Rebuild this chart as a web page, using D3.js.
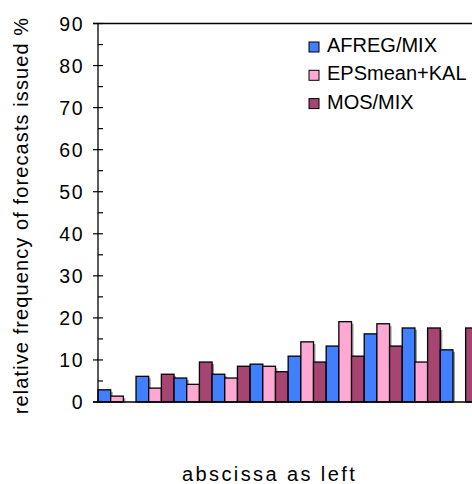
<!DOCTYPE html>
<html>
<head>
<meta charset="utf-8">
<script src="https://d3js.org/d3.v7.min.js"></script>
<style>
  body { margin: 0; background: #fff; overflow: hidden; }
  svg { display: block; }
  text { font-family: "Liberation Sans", Arial, sans-serif; fill: #000; }
</style>
</head>
<body>
<svg width="472" height="484"></svg>
<script>
// bins along the abscissa (no labels shown on the chart)
const categories = ["1", "2", "3", "4", "5", "6", "7", "8", "9", "10"];
const seriesNames = ["AFREG/MIX", "EPSmean+KAL", "MOS/MIX"];
const afreg   = [2.9, 6.1, 5.7, 6.6, 9.0, 10.9, 13.3, 16.2, 17.6, 12.4];
const epsKal  = [1.4, 3.3, 4.2, 5.7, 8.5, 14.3, 19.1, 18.6, 9.5, 0];
const mosMix  = [0, 6.6, 9.5, 8.5, 7.2, 9.5, 10.9, 13.3, 17.6, 17.6];
const yTicks  = [0, 10, 20, 30, 40, 50, 60, 70, 80, 90];
const colors  = ["#4080ff", "#ffa8d4", "#a64472"];

const svg = d3.select("svg");
const W = 472;

// plot area (the chart continues past the right edge of the window)
const x0 = 98, groupW = 38.03;
const x = d3.scaleBand().domain(categories)
  .range([x0, x0 + groupW * categories.length]).padding(0);
const xs = d3.scaleBand().domain(seriesNames).range([0, x.bandwidth()]).padding(0);
const y = d3.scaleLinear().domain([0, 90]).range([402, 23.5]);

const values = [afreg, epsKal, mosMix];
const rows = [];
categories.forEach((c, i) => {
  seriesNames.forEach((s, j) => rows.push({ cat: c, s, j, v: values[j][i] }));
});

// bar shadows
svg.append("g").selectAll("rect")
  .data(rows.filter(d => d.v > 0))
  .join("rect")
    .attr("x", d => x(d.cat) + xs(d.s) + 2)
    .attr("y", d => y(d.v) + 2)
    .attr("width", xs.bandwidth())
    .attr("height", d => y(0) - y(d.v) - 2)
    .attr("fill", "#999");

// bars
svg.append("g").selectAll("rect")
  .data(rows.filter(d => d.v > 0))
  .join("rect")
    .attr("x", d => x(d.cat) + xs(d.s))
    .attr("y", d => y(d.v))
    .attr("width", xs.bandwidth())
    .attr("height", d => y(0) - y(d.v))
    .attr("fill", d => colors[d.j])
    .attr("stroke", "#000")
    .attr("stroke-width", 1.3);

// y axis
const ax = svg.append("g");
ax.append("line")
  .attr("x1", x0).attr("x2", x0)
  .attr("y1", y(90)).attr("y2", y(0))
  .attr("stroke", "#000").attr("stroke-width", 1.3);
// top frame line
ax.append("line")
  .attr("x1", x0 - 5).attr("x2", W)
  .attr("y1", y(90)).attr("y2", y(90))
  .attr("stroke", "#000").attr("stroke-width", 1.3);
// x axis line
ax.append("line")
  .attr("x1", x0 - 5).attr("x2", W)
  .attr("y1", y(0)).attr("y2", y(0))
  .attr("stroke", "#000").attr("stroke-width", 1.6);

ax.selectAll(".major").data(yTicks).join("line")
  .attr("x1", x0 - 5).attr("x2", x0 + 5)
  .attr("y1", d => y(d)).attr("y2", d => y(d))
  .attr("stroke", "#000").attr("stroke-width", 1.2);
ax.selectAll(".minor").data(yTicks.slice(0, -1).map(d => d + 5)).join("line")
  .attr("x1", x0).attr("x2", x0 + 5)
  .attr("y1", d => y(d)).attr("y2", d => y(d))
  .attr("stroke", "#000").attr("stroke-width", 1.2);

ax.selectAll("text").data(yTicks).join("text")
  .attr("x", 84)
  .attr("y", d => y(d))
  .attr("dy", "0.36em")
  .attr("text-anchor", "end")
  .style("font-size", "19.5px")
  .style("letter-spacing", "1.5px")
  .text(d => d);

// axis titles
svg.append("text")
  .attr("transform", "translate(27.5,215.5) rotate(-90)")
  .attr("text-anchor", "middle")
  .style("font-size", "20px")
  .style("letter-spacing", "1.1px")
  .text("relative frequency of forecasts issued %");

svg.append("text")
  .attr("x", 182).attr("y", 481)
  .style("font-size", "20px")
  .style("letter-spacing", "2.4px")
  .text("abscissa as left");

// legend
const lg = svg.append("g").selectAll("g").data(seriesNames).join("g")
  .attr("transform", (d, i) => `translate(309,${52 + i * 28.3})`);
lg.append("rect")
  .attr("x", 0).attr("y", -10)
  .attr("width", 10).attr("height", 10)
  .attr("fill", (d, i) => colors[i])
  .attr("stroke", "#000").attr("stroke-width", 1);
lg.append("text")
  .attr("x", 18).attr("y", 0)
  .style("font-size", "20px")
  .text(d => d);
</script>
</body>
</html>
